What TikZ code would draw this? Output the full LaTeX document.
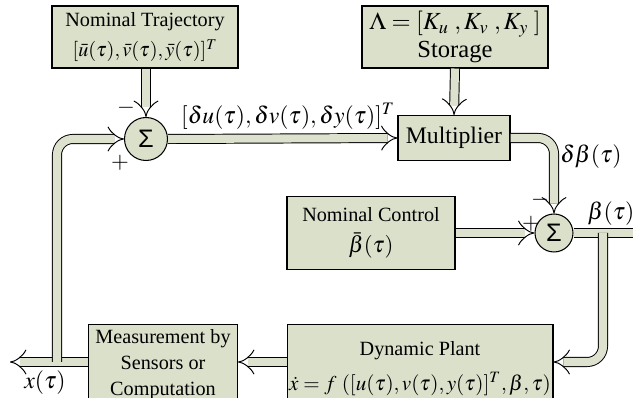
\documentclass[tikz,border=0pt]{standalone}
\usepackage{mathptmx}
\usepackage{fontspec}
\setmainfont{Liberation Serif}
\newfontfamily\sigfont{Liberation Sans}
\usetikzlibrary{positioning, arrows.meta, calc}
\definecolor{boxC}{RGB}{219,224,203}
\definecolor{pipeC}{RGB}{221,226,206}

\begin{document}
\begin{tikzpicture}[
  x=0.02cm, y=-0.02cm,
  every node/.style={font=\fontsize{11.5}{15}\selectfont},
  blk/.style ={draw=black, line width=0.6pt, fill=boxC, align=center, inner sep=2pt},
  sumdot/.style={circle, draw=black, line width=0.6pt, fill=boxC, inner sep=0pt, minimum size=0.86cm, font=\sigfont\Large},
  pipe/.style={draw=black, line width=0.55pt, double=pipeC, double distance=4.6pt, rounded corners=9pt, -Implies},
  pipeline/.style={draw=black, line width=0.55pt, double=pipeC, double distance=4.6pt, rounded corners=9pt},
  sgn/.style ={inner sep=0pt, font=\fontsize{13}{15}\selectfont},
  lab/.style ={inner sep=1pt, font=\fontsize{13.5}{15}\selectfont},
]
  \useasboundingbox (0,0) rectangle (633,398);
  % blocks
  \node[blk, minimum width=3.72cm, minimum height=1.24cm] (traj) at (145,37)
        {Nominal Trajectory\\[2pt]$[\bar{u}(\tau),\bar{v}(\tau),\bar{y}(\tau)]^T$};
  \node[blk, minimum width=3.72cm, minimum height=1.24cm, font=\fontsize{14}{16}\selectfont] (store) at (455,37)
        {$\Lambda=[K_u\;,K_v\;,K_y\;]$\\Storage};
  \node[sumdot] (sum1) at (146,139) {Σ};
  \node[blk, minimum width=2.24cm, minimum height=0.9cm, font=\fontsize{13.5}{15}\selectfont] (mult) at (454,138) {Multiplier};
  \node[blk, minimum width=3.36cm, minimum height=1.46cm] (ctrl) at (371,233)
        {Nominal Control\\[3pt]{\fontsize{13}{15}\selectfont$\bar{\beta}(\tau)$}};
  \node[sumdot, minimum size=0.76cm] (sum2) at (554,233) {Σ};
  \node[blk, minimum width=2.98cm, minimum height=1.6cm, anchor=north] (meas) at (163,324)
        {Measurement by\\Sensors or\\Computation};
  \node[blk, inner xsep=0pt, minimum width=5.32cm, minimum height=1.76cm, anchor=north] (plant) at (420,324)
        {Dynamic Plant\\[5pt]{\fontsize{12}{15}\selectfont$\dot{x}=f\ ([u(\tau),v(\tau),y(\tau)]^T,\beta,\tau)$}};
  % free ends
  \coordinate (xout) at (10,362);
  \coordinate (fbk) at (57,362);
  \coordinate (bout) at (640,233);
  \coordinate (bsplit) at (603,233);
  % pipes
  \draw[pipe] (meas.west |- xout) -- (xout);
  \draw[pipe] (plant.west |- xout) -- (meas.east |- xout);
  \draw[pipe] (fbk) |- (sum1.west);
  \draw[pipe] (traj.south -| sum1) -- (sum1.north);
  \draw[pipe] (sum1.east) -- (mult.west);
  \draw[pipe] (store.south) -- (mult.north);
  \draw[pipe] (mult.east) -| (sum2.north);
  \draw[pipe] (ctrl.east) -- (sum2.west);
  \draw[pipeline] (sum2.east) -- (bout);
  \draw[pipe] (bsplit) |- (plant.east |- xout);
  % labels
  \node[sgn] (m1) at (126,108) {$-$};
  \node[sgn] (p1) at (120,163) {$+$};
  \node[sgn] (m2) at (540,200) {$-$};
  \node[sgn] (p2) at (531,224) {$+$};
  \node[lab] (dlab) at (288,116) {$[\delta u(\tau),\delta v(\tau),\delta y(\tau)]^T$};
  \node[lab] (dblab) at (591,157) {$\delta\beta(\tau)$};
  \node[lab] (blab) at (611,214) {$\beta(\tau)$};
  \node[lab] (xlab) at (45,383) {$x(\tau)$};
\end{tikzpicture}
\end{document}
